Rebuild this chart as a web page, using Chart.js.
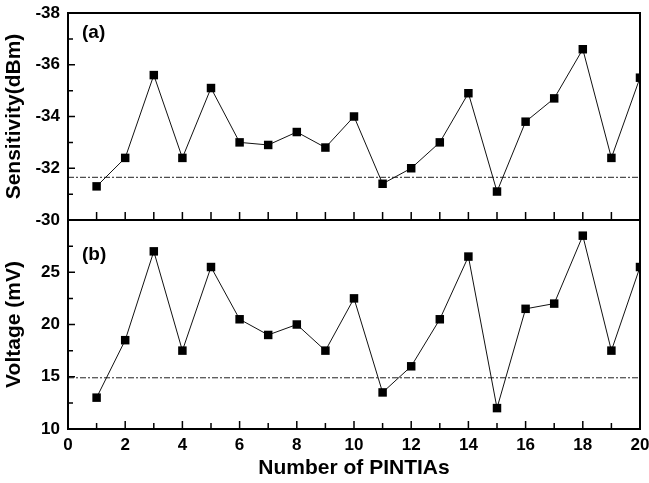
<!DOCTYPE html>
<html>
<head>
<meta charset="utf-8">
<script src="https://cdn.jsdelivr.net/npm/chart.js@4/dist/chart.umd.min.js"></script>
<style>
  html, body { margin: 0; padding: 0; background: #fff; }
  #wrap { position: relative; width: 649px; height: 483px; }
  #wrap canvas { position: absolute; left: 0; top: 0; }
</style>
</head>
<body>
<div id="wrap">
  <canvas id="sensChart" width="649" height="483"></canvas>
  <canvas id="voltChart" width="649" height="483"></canvas>
</div>
<script>
const pintias = [1, 2, 3, 4, 5, 6, 7, 8, 9, 10, 11, 12, 13, 14, 15, 16, 17, 18, 19, 20];
const sensitivity = [-31.3, -32.4, -35.6, -32.4, -35.1, -33.0, -32.9, -33.4, -32.8, -34.0,
                     -31.4, -32.0, -33.0, -34.9, -31.1, -33.8, -34.7, -36.6, -32.4, -35.5];
const voltage = [13.0, 18.5, 27.0, 17.5, 25.5, 20.5, 19.0, 20.0, 17.5, 22.5,
                 13.5, 16.0, 20.5, 26.5, 12.0, 21.5, 22.0, 28.5, 17.5, 25.5];
const sensLevel = -31.65;
const voltLevel = 14.9;
const sensTicks = [-38, -36, -34, -32, -30];
const voltTicks = [10, 15, 20, 25, 30];
const pintiaTicks = [0, 2, 4, 6, 8, 10, 12, 14, 16, 18, 20];

const FONT = "'Liberation Sans', Arial, sans-serif";
Chart.defaults.font.family = FONT;
Chart.defaults.color = "#000";

// frame, inward ticks and panel letter
const framePlugin = {
  id: "frame",
  afterDatasetsDraw(chart, args, opts) {
    const { ctx, chartArea: a } = chart;
    const x = chart.scales.x, y = chart.scales.y;
    ctx.save();
    ctx.strokeStyle = "#000";
    ctx.lineWidth = 1.5;
    ctx.beginPath();
    opts.yTicks.forEach((v, i) => {
      const py = y.getPixelForValue(v);
      ctx.moveTo(a.left, py);
      ctx.lineTo(a.left + 7, py);
      if (i < opts.yTicks.length - 1) {
        const pm = y.getPixelForValue((v + opts.yTicks[i + 1]) / 2);
        ctx.moveTo(a.left, pm);
        ctx.lineTo(a.left + 5, pm);
      }
    });
    pintias.slice(0, -1).forEach((v) => {
      const px = x.getPixelForValue(v);
      const len = opts.minorX && v % 2 ? 6 : 8;
      ctx.moveTo(px, a.bottom);
      ctx.lineTo(px, a.bottom - len);
    });
    ctx.stroke();
    ctx.lineWidth = 2;
    ctx.strokeRect(a.left, a.top, a.right - a.left, a.bottom - a.top);
    ctx.fillStyle = "#000";
    ctx.font = "bold 19px " + FONT;
    ctx.textBaseline = "middle";
    ctx.fillText(opts.label, a.left + 14, a.top + opts.labelDy);
    ctx.restore();
  },
};

function seriesData(vals) {
  return pintias.map((p, i) => ({ x: p, y: vals[i] }));
}

function levelData(v) {
  return [{ x: pintiaTicks[0], y: v }, { x: pintiaTicks[pintiaTicks.length - 1], y: v }];
}

function datasets(vals, level) {
  return [
    {
      data: seriesData(vals),
      borderColor: "#111",
      borderWidth: 1,
      pointStyle: "rect",
      pointRadius: 6,
      pointBorderWidth: 0,
      pointBackgroundColor: "#000",
      tension: 0,
    },
    {
      data: levelData(level),
      borderColor: "#222",
      borderWidth: 1,
      borderDash: [6, 2, 2, 2],
      pointRadius: 0,
    },
  ];
}

function yScale(ticks, title, extra) {
  return Object.assign({
    type: "linear",
    min: ticks[0],
    max: ticks[ticks.length - 1],
    afterBuildTicks: (s) => { s.ticks = ticks.map((v) => ({ value: v })); },
    afterFit: (s) => { s.width = 68; s.paddingTop = 0; s.paddingBottom = 0; },
    grid: { display: false, drawTicks: false },
    border: { display: false },
    ticks: { autoSkip: false, padding: 8, font: { size: 17, weight: "bold" } },
    title: { display: true, text: title, padding: { top: 2 }, font: { size: 21, weight: "bold" } },
  }, extra);
}

new Chart(document.getElementById("sensChart"), {
  type: "line",
  data: { datasets: datasets(sensitivity, sensLevel) },
  options: {
    responsive: false,
    animation: false,
    layout: { padding: { left: 0, right: 9, top: 13, bottom: 263 } },
    plugins: {
      legend: { display: false },
      tooltip: { enabled: false },
      frame: { yTicks: sensTicks, label: "(a)", labelDy: 20, minorX: false },
    },
    scales: {
      x: { type: "linear", min: 0, max: 20, display: false },
      y: yScale(sensTicks, "Sensitivity(dBm)", { reverse: true }),
    },
  },
  plugins: [framePlugin],
});

new Chart(document.getElementById("voltChart"), {
  type: "line",
  data: { datasets: datasets(voltage, voltLevel) },
  options: {
    responsive: false,
    animation: false,
    layout: { padding: { left: 0, right: 9, top: 220, bottom: 0 } },
    plugins: {
      legend: { display: false },
      tooltip: { enabled: false },
      frame: { yTicks: voltTicks, label: "(b)", labelDy: 35, minorX: true },
    },
    scales: {
      x: {
        type: "linear",
        min: 0,
        max: 20,
        afterBuildTicks: (s) => { s.ticks = pintiaTicks.map((v) => ({ value: v })); },
        afterFit: (s) => { s.height = 54; s.paddingLeft = 0; s.paddingRight = 0; },
        grid: { display: false, drawTicks: false },
        border: { display: false },
        ticks: { autoSkip: false, maxRotation: 0, padding: 6, font: { size: 17, weight: "bold" } },
        title: { display: true, text: "Number of PINTIAs", padding: { bottom: 2 }, font: { size: 21, weight: "bold" } },
      },
      y: yScale(voltTicks, "Voltage (mV)", {
        ticks: {
          autoSkip: false, padding: 8, font: { size: 17, weight: "bold" },
          callback: (v) => (v === voltTicks[voltTicks.length - 1] ? "" : v),
        },
      }),
    },
  },
  plugins: [framePlugin],
});
</script>
</body>
</html>
